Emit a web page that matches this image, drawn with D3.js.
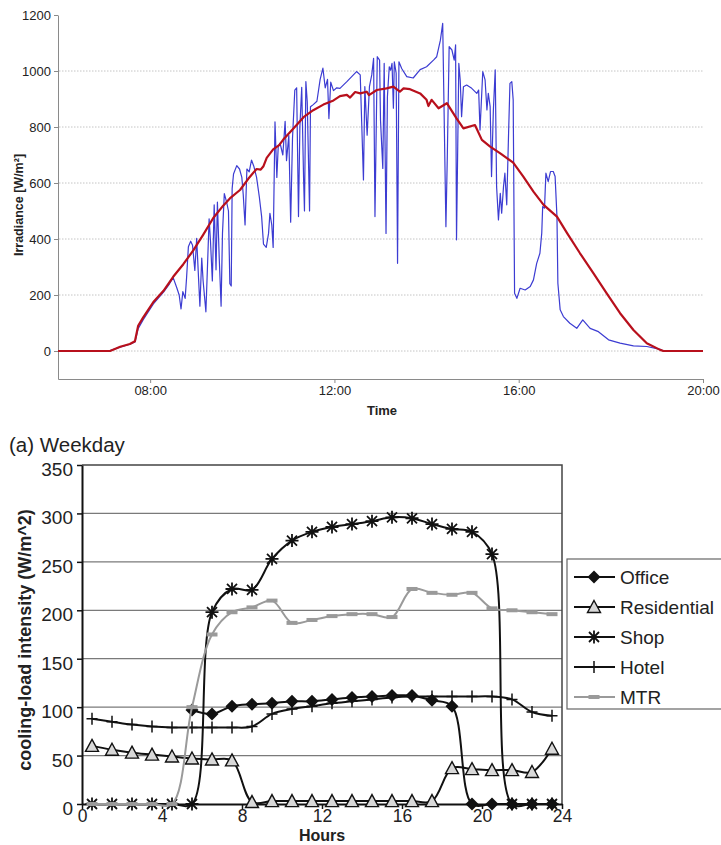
<!DOCTYPE html>
<html>
<head>
<meta charset="utf-8">
<style>
  body { margin: 0; background: #fff; }
  svg { display: block; font-family: "Liberation Sans", Arial, sans-serif; }
</style>
</head>
<body>
<svg width="721" height="845"></svg>

<script src="https://d3js.org/d3.v7.min.js"></script>
<script>

	// ---- top chart: irradiance over one day ----
	// [hour, W/m2] (blue)
	const measured = [
		[6.00,0],[7.10,0],[7.35,14],[7.56,24],[7.67,32],[7.74,80],[7.85,112],[8.07,168],[8.29,210],[8.42,240],
		[8.50,262],[8.58,225],[8.63,200],[8.67,150],[8.71,212],[8.76,188],[8.79,260],[8.83,372],[8.88,392],[8.92,378],
		[8.97,288],[9.01,402],[9.05,262],[9.08,160],[9.12,332],[9.15,250],[9.21,140],[9.24,280],[9.28,472],[9.31,392],
		[9.35,250],[9.39,522],[9.43,290],[9.46,532],[9.50,330],[9.54,160],[9.57,420],[9.61,562],[9.66,532],[9.70,500],
		[9.73,240],[9.76,232],[9.78,580],[9.81,632],[9.88,662],[9.94,650],[9.99,620],[10.02,560],[10.06,450],[10.10,650],
		[10.15,640],[10.20,682],[10.25,660],[10.31,620],[10.37,550],[10.42,480],[10.46,382],[10.52,370],[10.57,420],[10.60,492],
		[10.64,450],[10.67,370],[10.71,818],[10.75,620],[10.78,730],[10.82,742],[10.88,700],[10.93,820],[10.96,680],[11.01,770],
		[11.05,460],[11.09,760],[11.14,932],[11.18,940],[11.22,480],[11.25,800],[11.29,942],[11.33,620],[11.35,500],[11.38,962],
		[11.41,890],[11.46,500],[11.48,872],[11.54,880],[11.62,892],[11.69,970],[11.75,1010],[11.80,940],[11.85,970],[11.88,830],
		[11.92,960],[11.98,930],[12.05,940],[12.12,938],[12.27,962],[12.48,998],[12.56,986],[12.63,611],[12.66,944],[12.71,771],
		[12.76,944],[12.81,986],[12.85,1045],[12.88,480],[12.93,1051],[12.98,1039],[13.00,825],[13.05,652],[13.08,1027],[13.12,420],
		[13.15,908],[13.19,1015],[13.22,1003],[13.25,1027],[13.28,867],[13.30,1033],[13.34,992],[13.37,313],[13.40,1033],[13.46,1009],
		[13.57,980],[13.71,975],[13.86,1005],[14.00,1015],[14.15,1039],[14.22,1051],[14.30,1110],[14.35,1170],[14.42,444],[14.45,694],
		[14.49,1087],[14.55,1075],[14.60,1039],[14.63,1093],[14.65,397],[14.70,1027],[14.73,968],[14.76,837],[14.80,944],[14.87,950],
		[14.98,938],[15.09,920],[15.13,932],[15.16,789],[15.22,998],[15.27,968],[15.31,861],[15.34,920],[15.38,873],[15.41,623],
		[15.45,861],[15.49,1004],[15.52,587],[15.56,468],[15.60,563],[15.63,492],[15.67,587],[15.70,635],[15.74,522],[15.78,778],
		[15.81,956],[15.85,962],[15.88,897],[15.91,206],[15.96,188],[16.03,224],[16.14,218],[16.25,230],[16.32,254],[16.39,313],
		[16.46,349],[16.50,421],[16.52,516],[16.56,510],[16.59,635],[16.64,605],[16.69,641],[16.75,641],[16.79,623],[16.83,480],
		[16.85,242],[16.90,147],[16.97,123],[17.11,99],[17.26,81],[17.39,111],[17.55,81],[17.73,69],[17.95,40],[18.20,28],
		[18.49,18],[18.78,16],[19.07,6],[19.14,0],[20.00,0]
	]

	// [hour, W/m2] the smooth (red) curve
	const modelled = [
		[6.00,0],[7.13,0],[7.35,15],[7.56,25],[7.67,35],[7.74,90],[7.85,120],[8.07,175],[8.29,215],[8.50,265],
		[8.72,310],[8.94,360],[9.15,415],[9.37,475],[9.59,520],[9.73,545],[9.95,575],[10.13,615],[10.31,650],[10.40,648],
		[10.46,660],[10.53,690],[10.67,720],[10.80,735],[10.89,755],[11.11,795],[11.33,835],[11.54,860],[11.76,880],[11.98,895],
		[12.12,910],[12.27,915],[12.34,905],[12.45,925],[12.56,920],[12.70,926],[12.75,914],[12.92,932],[13.13,938],[13.28,944],
		[13.42,926],[13.50,938],[13.64,935],[13.86,920],[14.00,897],[14.04,875],[14.11,897],[14.26,867],[14.44,885],[14.65,831],
		[14.80,795],[15.05,807],[15.20,754],[15.38,730],[15.60,706],[15.88,673],[16.10,623],[16.32,569],[16.54,522],[16.83,480],
		[17.05,421],[17.33,349],[17.62,278],[17.91,206],[18.20,135],[18.49,75],[18.78,28],[19.07,4],[19.14,0],[20.00,0]
	]

	const irrTicks = [0, 200, 400, 600, 800, 1000, 1200]
	const timeTicks = [8, 12, 16, 20]

	// ---- bottom chart: weekday cooling-load intensity ----
	const hours = [0.5,1.5,2.5,3.5,4.5,5.5,6.5,7.5,8.5,9.5,10.5,11.5,12.5,13.5,14.5,15.5,16.5,17.5,18.5,19.5,20.5,21.5,22.5,23.5]
	const office      = [null,null,null,null,null,97,93,101,103,104,106,106,108,110,111,112,112,107,101,0,0,0,0,0]
	const residential = [60,56,53,51,49,47,46,45,2,3,3,3,3,3,3,3,3,3,37,36,35,35,33,57]
	const shop        = [0,0,0,0,0,0,198,222,221,253,272,281,286,289,292,296,295,289,284,281,258,0,0,0]
	const hotel       = [88,85,82,80,79,79,79,79,80,93,98,101,104,106,108,110,111,111,111,111,111,108,95,91]
	const mtr         = [0,0,0,0,0,100,175,198,203,210,187,190,194,196,196,193,222,218,216,218,202,200,198,196]
	const loadTicks = [0, 50, 100, 150, 200, 250, 300, 350]
	const hourTicks = [0, 4, 8, 12, 16, 20, 24]

	const svg = d3.select("svg")
	svg.append("rect").attr("width", 721).attr("height", 845).attr("fill", "#fff")

	// ============ top chart ============
	const tx = d3.scaleLinear().domain([6, 20]).range([58, 703])
	const ty = d3.scaleLinear().domain([-100, 1200]).range([379, 15])

	const topG = svg.append("g")

	// dotted grid
	topG.append("g")
		.selectAll("line")
		.data(irrTicks.filter(d => d < 1200))
		.join("line")
			.attr("x1", 59).attr("x2", 703)
			.attr("y1", d => ty(d)).attr("y2", d => ty(d))
			.attr("stroke", "#c4c4c4")
			.attr("stroke-dasharray", "1.5,1.5")

	const yAxTop = topG.append("g")
		.attr("transform", "translate(58,0)")
		.call(d3.axisLeft(ty).tickValues(irrTicks).tickFormat(d3.format("d")).tickSize(4).tickSizeOuter(0).tickPadding(3))
	yAxTop.selectAll("text").attr("font-size", 13).attr("fill", "#222").attr("font-family", "Liberation Sans, Arial, sans-serif")

	const xAxTop = topG.append("g")
		.attr("transform", "translate(0,379)")
		.call(d3.axisBottom(tx).tickValues(timeTicks).tickSize(4).tickSizeOuter(0).tickPadding(3)
			.tickFormat(d => d3.format("02d")(d) + ":00"))
	xAxTop.selectAll("text").attr("font-size", 13).attr("fill", "#222").attr("font-family", "Liberation Sans, Arial, sans-serif")
	topG.selectAll(".domain, .tick line").attr("stroke", "#8a8a8a")

	const lineTop = d3.line().x(d => tx(d[0])).y(d => ty(d[1]))

	topG.append("path")
		.datum(measured)
		.attr("d", lineTop)
		.attr("fill", "none")
		.attr("stroke", "#3c3cd2")
		.attr("stroke-width", 1.2)
		.attr("stroke-linejoin", "round")

	topG.append("path")
		.datum(modelled)
		.attr("d", lineTop)
		.attr("fill", "none")
		.attr("stroke", "#b8101c")
		.attr("stroke-width", 2.2)
		.attr("stroke-linejoin", "round")

	topG.append("text")
		.attr("transform", "translate(23,205) rotate(-90)")
		.attr("text-anchor", "middle")
		.attr("font-size", 12.5)
		.attr("font-weight", "bold")
		.attr("fill", "#222")
		.text("Irradiance [W/m²]")

	topG.append("text")
		.attr("x", 382).attr("y", 415)
		.attr("text-anchor", "middle")
		.attr("font-size", 13)
		.attr("font-weight", "bold")
		.attr("fill", "#222")
		.text("Time")

	// ============ bottom chart ============
	const bx = d3.scaleLinear().domain([0, 24]).range([82, 562])
	const by = d3.scaleLinear().domain([0, 350]).range([804, 465])

	const botG = svg.append("g")

	botG.append("text")
		.attr("x", 9).attr("y", 452)
		.attr("font-size", 20.5)
		.attr("fill", "#222")
		.text("(a) Weekday")

	// grid lines
	botG.append("g")
		.selectAll("line")
		.data(loadTicks.filter(d => d > 0 && d < 350))
		.join("line")
			.attr("x1", 82).attr("x2", 562)
			.attr("y1", d => by(d)).attr("y2", d => by(d))
			.attr("stroke", "#7a7a7a")
			.attr("stroke-width", 1.2)

	// frame top / right
	botG.append("path")
		.attr("d", `M${bx(0)},${by(350)}H${bx(24)}V${by(0)}`)
		.attr("fill", "none")
		.attr("stroke", "#444")
		.attr("stroke-width", 1.5)

	const yAxBot = botG.append("g")
		.attr("transform", "translate(82,0)")
		.call(d3.axisLeft(by).tickValues(loadTicks).tickSize(5).tickSizeOuter(0).tickPadding(4))
	yAxBot.selectAll("text")
		.attr("font-size", 19).attr("fill", "#222").attr("font-family", "Liberation Sans, Arial, sans-serif")
		.attr("dy", "0.55em")

	const xAxBot = botG.append("g")
		.attr("transform", "translate(0,804)")
		.call(d3.axisBottom(bx).tickValues(hourTicks).tickSize(5).tickSizeOuter(0).tickPadding(1))
	xAxBot.selectAll("text").attr("font-size", 17.5).attr("fill", "#222").attr("font-family", "Liberation Sans, Arial, sans-serif")
	yAxBot.select(".domain").attr("stroke", "#111").attr("stroke-width", 2)
	xAxBot.select(".domain").attr("stroke", "#111").attr("stroke-width", 2)
	botG.selectAll(".tick line").attr("stroke", "#111").attr("stroke-width", 1.5)

	botG.append("text")
		.attr("transform", "translate(31,640) rotate(-90)")
		.attr("text-anchor", "middle")
		.attr("font-size", 18)
		.attr("font-weight", "bold")
		.attr("fill", "#222")
		.text("cooling-load intensity (W/m^2)")

	botG.append("text")
		.attr("x", 322).attr("y", 841)
		.attr("text-anchor", "middle")
		.attr("font-size", 16)
		.attr("font-weight", "bold")
		.attr("fill", "#222")
		.text("Hours")

	// marker shapes
	const markers = {
		diamond: g => g.append("path").attr("d", "M0,-6.5L6.5,0L0,6.5L-6.5,0Z").attr("fill", "#111"),
		triangle: g => g.append("path").attr("d", "M0,-6.5L6.5,5.5L-6.5,5.5Z").attr("fill", "#d8d8d8").attr("stroke", "#111").attr("stroke-width", 1.4),
		star: g => g.append("path").attr("d", "M-5,-5L5,5M-5,5L5,-5M0,-6.5L0,6.5M-6.5,0L6.5,0").attr("stroke", "#111").attr("stroke-width", 1.8),
		plus: g => g.append("path").attr("d", "M-5.5,0L5.5,0M0,-6L0,6").attr("stroke", "#111").attr("stroke-width", 1.5),
		dash: g => g.append("rect").attr("x", -5.5).attr("y", -2).attr("width", 11).attr("height", 4).attr("fill", "#9a9a9a")
	}

	const series = [
		{name: "Office", values: office, color: "#111", marker: "diamond"},
		{name: "Residential", values: residential, color: "#111", marker: "triangle"},
		{name: "Shop", values: shop, color: "#111", marker: "star"},
		{name: "Hotel", values: hotel, color: "#111", marker: "plus"},
		{name: "MTR", values: mtr, color: "#9a9a9a", marker: "dash"}
	]

	const lineBot = d3.line()
		.defined(d => d[1] !== null)
		.x(d => bx(d[0]))
		.y(d => by(d[1]))
		.curve(d3.curveCatmullRom.alpha(0.5))

	series.forEach(s => {
		const pts = hours.map((h, i) => [h, s.values[i]])
		botG.append("path")
			.datum(pts)
			.attr("d", lineBot)
			.attr("fill", "none")
			.attr("stroke", s.color)
			.attr("stroke-width", 2)

		botG.append("g")
			.selectAll("g")
			.data(pts.filter(d => d[1] !== null))
			.join("g")
				.attr("transform", d => `translate(${bx(d[0])},${by(d[1])})`)
				.each(function() { markers[s.marker](d3.select(this)) })
	})

	// legend
	const legend = botG.append("g")
	legend.append("rect")
		.attr("x", 567).attr("y", 559)
		.attr("width", 170).attr("height", 150)
		.attr("fill", "#fff")
		.attr("stroke", "#666")
		.attr("stroke-width", 1.2)

	const item = legend.selectAll("g.item")
		.data(series)
		.join("g")
			.attr("class", "item")
			.attr("transform", (d, i) => `translate(0,${577 + i * 30})`)

	item.append("line")
		.attr("x1", 574).attr("x2", 615)
		.attr("stroke", d => d.color)
		.attr("stroke-width", 2)

	item.append("g")
		.attr("transform", "translate(594,0)")
		.each(function(d) { markers[d.marker](d3.select(this)) })

	item.append("text")
		.attr("x", 620).attr("y", 7)
		.attr("font-size", 19)
		.attr("fill", "#222")
		.text(d => d.name)

</script>
</body>
</html>
